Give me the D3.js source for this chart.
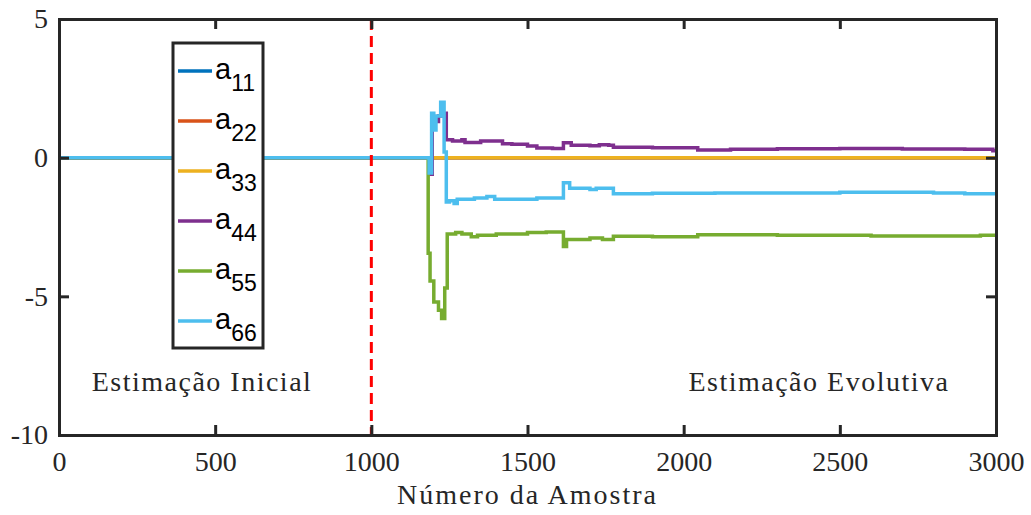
<!DOCTYPE html>
<html>
<head>
<meta charset="utf-8">
<script src="https://cdn.jsdelivr.net/npm/d3@7"></script>
<style>
  body { margin: 0; background: #fff; }
  svg text.serif, svg .tick text { font-family: "Liberation Serif", "DejaVu Serif", serif; }
</style>
</head>
<body>
<div id="chart"></div>
<script>
var width = 1031,
    height = 515,
    margin = {top: 19, right: 35, bottom: 80, left: 59};

var seriesNames = ["11", "22", "33", "44", "55", "66"];
var seriesColors = ["#0072BD", "#D95319", "#EDB120", "#7E2F8E", "#77AC30", "#4DBEEE"];

var xTicks = [0, 500, 1000, 1500, 2000, 2500, 3000];
var yTicks = [-10, -5, 0, 5];

// [amostra, valor] - stairs
var a11 = [[0, 0], [3000, 0]];
var a22 = [[0, 0], [3000, 0]];
var a33 = [[0, 0], [3000, 0]];
var a44 = [[0, 0], [1180, 0], [1185, -0.6], [1195, 1.3], [1215, 1.5], [1230, 1.6], [1240, 0.65],
    [1260, 0.6], [1290, 0.65], [1300, 0.55], [1350, 0.6], [1420, 0.5], [1450, 0.48], [1500, 0.42],
    [1530, 0.35], [1580, 0.33], [1615, 0.54], [1640, 0.45], [1700, 0.43], [1730, 0.47], [1760, 0.45],
    [1775, 0.38], [1900, 0.36], [2045, 0.28], [2150, 0.3], [2300, 0.32], [2500, 0.33], [2700, 0.31],
    [2900, 0.3], [2990, 0.25], [3000, 0.25]];
var a55 = [[0, 0], [1180, 0], [1182, -3.45], [1188, -4.45], [1200, -5.2], [1215, -5.5], [1225, -5.8],
    [1235, -4.7], [1243, -2.75], [1270, -2.7], [1290, -2.75], [1320, -2.85], [1340, -2.8], [1400, -2.75],
    [1450, -2.75], [1500, -2.7], [1560, -2.68], [1615, -3.2], [1625, -2.95], [1700, -2.9], [1740, -2.95],
    [1775, -2.83], [1900, -2.85], [2045, -2.78], [2300, -2.8], [2600, -2.82], [2800, -2.82],
    [2950, -2.8], [3000, -2.76]];
var a66 = [[0, 0], [1180, 0], [1185, -0.55], [1193, 1.6], [1200, 1.0], [1207, 1.5], [1222, 2.0],
    [1233, 0.2], [1240, -1.6], [1250, -1.55], [1265, -1.65], [1275, -1.5], [1330, -1.45], [1370, -1.4],
    [1395, -1.5], [1450, -1.5], [1530, -1.45], [1615, -0.9], [1635, -1.1], [1700, -1.15], [1720, -1.1],
    [1775, -1.3], [1900, -1.28], [2100, -1.27], [2500, -1.25], [2800, -1.27], [2900, -1.3], [3000, -1.34]];
var series = [a11, a22, a33, a44, a55, a66];

var divisao = 1000;
var labelInicial = "Estimação Inicial";
var labelEvolutiva = "Estimação Evolutiva";
var xLabel = "Número da Amostra";

var w = width - margin.left - margin.right,
    h = height - margin.top - margin.bottom;

var svg = d3.select("#chart")
    .append("svg")
    .attr("width", width)
    .attr("height", height)
    .append("g")
    .attr("transform", "translate(" + margin.left + "," + margin.top + ")");

var x = d3.scaleLinear().domain([0, 3000]).range([0, w]);
var y = d3.scaleLinear().domain([-10, 5]).range([h, 0]);

svg.append("clipPath").attr("id", "clip")
    .append("rect").attr("width", w).attr("height", h);

var line = d3.line()
    .x(d => x(d[0]))
    .y(d => y(d[1]))
    .curve(d3.curveStepAfter);

var plot = svg.append("g").attr("clip-path", "url(#clip)");

plot.selectAll(".serie")
    .data(series)
    .enter().append("path")
    .attr("class", "serie")
    .attr("d", line)
    .attr("fill", "none")
    .attr("stroke", (d, i) => seriesColors[i])
    .attr("stroke-width", 3.5);

// linha vermelha tracejada
svg.append("line")
    .attr("x1", x(divisao)).attr("x2", x(divisao))
    .attr("y1", 0).attr("y2", h)
    .attr("stroke", "#ff0000")
    .attr("stroke-width", 3)
    .attr("stroke-dasharray", "11,6");

// eixos
var axisColor = "#262626";
var xAxis = svg.append("g")
    .attr("transform", "translate(0," + h + ")")
    .call(d3.axisBottom(x).tickValues(xTicks).tickSize(-10).tickPadding(16).tickFormat(d3.format("d")));
var xAxisTop = svg.append("g")
    .call(d3.axisTop(x).tickValues(xTicks).tickSize(-10).tickFormat(""));
var yAxis = svg.append("g")
    .call(d3.axisLeft(y).tickValues(yTicks).tickSize(-10).tickPadding(11).tickFormat(d3.format("d")));
var yAxisRight = svg.append("g")
    .attr("transform", "translate(" + w + ",0)")
    .call(d3.axisRight(y).tickValues(yTicks).tickSize(-10).tickFormat(""));

[xAxis, xAxisTop, yAxis, yAxisRight].forEach(function (g) {
    g.attr("font-family", null);
    g.select(".domain").attr("stroke", axisColor).attr("stroke-width", 3);
    g.selectAll(".tick line").attr("stroke", axisColor).attr("stroke-width", 3);
    g.selectAll(".tick text")
        .attr("fill", "#262626")
        .style("font-size", "28px");
});
yAxis.selectAll(".tick text").text(d => d < 0 ? "-" + Math.abs(d) : d);

// textos
svg.append("text")
    .attr("class", "serif")
    .attr("x", x(458)).attr("y", y(-8.4))
    .attr("text-anchor", "middle")
    .style("font-size", "28px")
    .style("letter-spacing", "1.5px")
    .attr("fill", "#262626")
    .text(labelInicial);

svg.append("text")
    .attr("class", "serif")
    .attr("x", x(2433)).attr("y", y(-8.4))
    .attr("text-anchor", "middle")
    .style("font-size", "28px")
    .style("letter-spacing", "1.5px")
    .attr("fill", "#262626")
    .text(labelEvolutiva);

svg.append("text")
    .attr("class", "serif")
    .attr("x", w / 2).attr("y", h + 69)
    .attr("text-anchor", "middle")
    .style("font-size", "28px")
    .style("letter-spacing", "2px")
    .attr("fill", "#262626")
    .text(xLabel);

// legenda
var legend = svg.append("g")
    .attr("transform", "translate(" + (173 - margin.left) + "," + (43 - margin.top) + ")");

legend.append("rect")
    .attr("width", 90)
    .attr("height", 305)
    .attr("fill", "#fff")
    .attr("stroke", axisColor)
    .attr("stroke-width", 3);

var item = legend.selectAll(".item")
    .data(seriesNames)
    .enter().append("g")
    .attr("class", "item")
    .attr("transform", (d, i) => "translate(0," + (28 + i * 50) + ")");

item.append("line")
    .attr("x1", 5).attr("x2", 39)
    .attr("stroke", (d, i) => seriesColors[i])
    .attr("stroke-width", 3.5);

var t = item.append("text")
    .attr("x", 42)
    .attr("y", 8)
    .style("font-family", "\"Liberation Sans\", Arial, sans-serif")
    .style("font-size", "29px")
    .attr("fill", "#000");
t.append("tspan").text("a");
t.append("tspan")
    .attr("dy", 12)
    .style("font-size", "23px")
    .text(d => d);
</script>
</body>
</html>
